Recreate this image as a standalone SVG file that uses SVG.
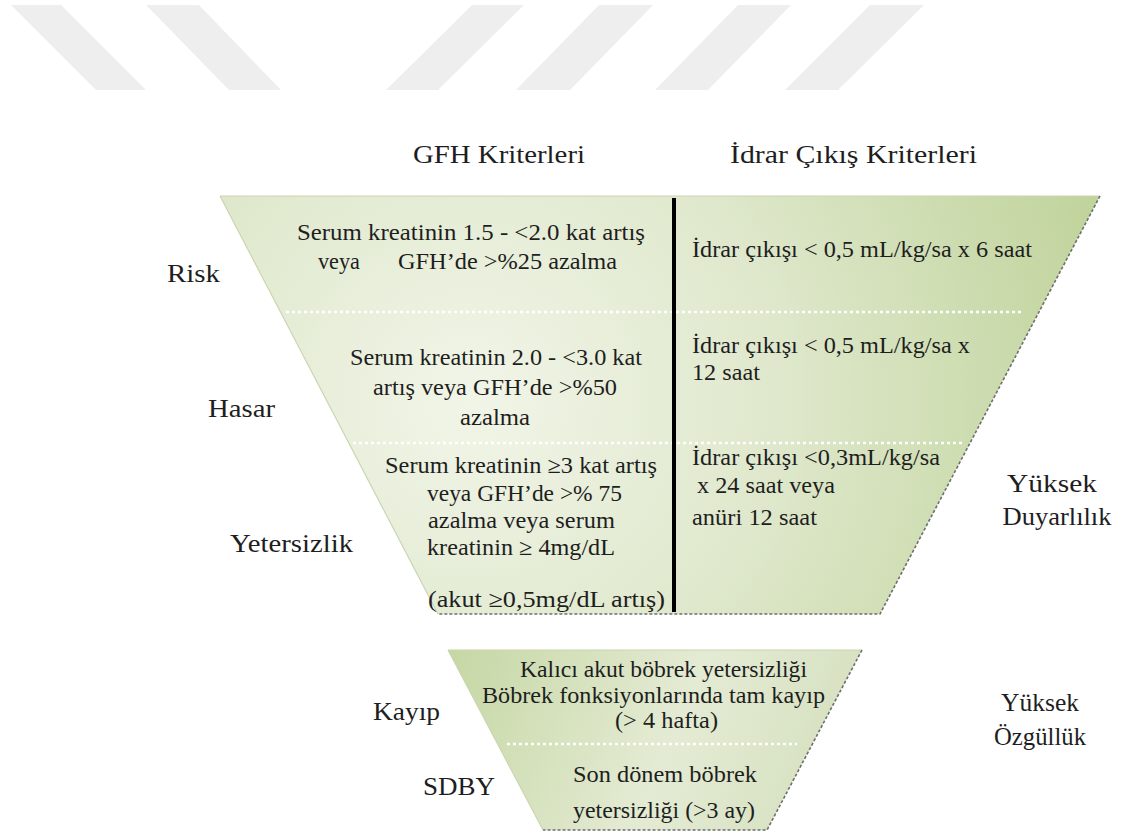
<svg xmlns="http://www.w3.org/2000/svg" width="1121" height="839" viewBox="0 0 1121 839">
<style>
text{font-family:'Liberation Serif','DejaVu Serif','Times New Roman',serif;fill:#1e1e1e}
.t{font-size:23px}
.l{font-size:26px}
.h{font-size:25px}
.wm{fill:#eeeeee}
.div{stroke:#ffffff;stroke-width:2.5;stroke-dasharray:3 3;fill:none}
.edge{stroke:#6e6e6e;stroke-width:1.6;stroke-dasharray:3 2;fill:none}
.ledge{stroke:#c9d6b0;stroke-width:1.2;fill:none}
</style>
<defs>
<radialGradient id="gUp" gradientUnits="userSpaceOnUse" cx="470" cy="400" r="680">
<stop offset="0" stop-color="#f1f5e8"/>
<stop offset="0.45" stop-color="#dfe8cc"/>
<stop offset="1" stop-color="#bed298"/>
</radialGradient>
<linearGradient id="gLow" gradientUnits="userSpaceOnUse" x1="450" y1="650" x2="820" y2="800">
<stop offset="0" stop-color="#c6d7a4"/>
<stop offset="0.6" stop-color="#e4ebd4"/>
<stop offset="1" stop-color="#d6e1c0"/>
</linearGradient>
</defs>
<rect width="1121" height="839" fill="#ffffff"/>
<g id="watermark">
<polygon class="wm" points="11,5 61,5 146,90 96,90"/>
<polygon class="wm" points="146,5 199,5 281,90 229,90"/>
<polygon class="wm" points="472,5 524,5 438,90 386,90"/>
<polygon class="wm" points="599,5 653,5 570,90 516,90"/>
<polygon class="wm" points="738,5 791,5 708,90 655,90"/>
<polygon class="wm" points="870,5 924,5 838,90 785,90"/>
</g>
<g id="headers">
<text class="h" font-family="Liberation Serif, DejaVu Serif, serif" x="413" y="163" textLength="172" lengthAdjust="spacingAndGlyphs">GFH Kriterleri</text>
<text class="h" font-family="Liberation Serif, DejaVu Serif, serif" x="730" y="163" textLength="247" lengthAdjust="spacingAndGlyphs">İdrar Çıkış Kriterleri</text>
</g>
<g id="upper-funnel">
<polygon points="220,196 1100,196 880,614 438,614" fill="url(#gUp)"/>
<path class="ledge" d="M220,196 L438,614 M220,196 L1100,196"/>
<path class="edge" d="M1100,196 L880,614 L438,614"/>
<line class="div" x1="286" y1="312" x2="1023" y2="312"/>
<line class="div" x1="353" y1="443" x2="965" y2="443"/>
<line x1="674" y1="198" x2="674" y2="612" stroke="#000" stroke-width="4"/>
</g>
<g id="risk">
<text class="l" x="167" y="282" textLength="53" lengthAdjust="spacingAndGlyphs">Risk</text>
<text class="t" x="297" y="240" textLength="348" lengthAdjust="spacingAndGlyphs">Serum kreatinin 1.5 - &lt;2.0 kat artış</text>
<text class="t" x="318" y="269" textLength="42" lengthAdjust="spacingAndGlyphs">veya</text>
<text class="t" x="398" y="269" textLength="219" lengthAdjust="spacingAndGlyphs">GFH’de &gt;%25 azalma</text>
<text class="t" x="692" y="257" textLength="340" lengthAdjust="spacingAndGlyphs">İdrar çıkışı &lt; 0,5 mL/kg/sa x 6 saat</text>
</g>
<g id="hasar">
<text class="l" x="208" y="417" textLength="67" lengthAdjust="spacingAndGlyphs">Hasar</text>
<text class="t" x="350" y="365" textLength="292" lengthAdjust="spacingAndGlyphs">Serum kreatinin 2.0 - &lt;3.0 kat</text>
<text class="t" x="373" y="395" textLength="244" lengthAdjust="spacingAndGlyphs">artış veya GFH’de &gt;%50</text>
<text class="t" x="460" y="425" textLength="70" lengthAdjust="spacingAndGlyphs">azalma</text>
<text class="t" x="692" y="353" textLength="278" lengthAdjust="spacingAndGlyphs">İdrar çıkışı &lt; 0,5 mL/kg/sa x</text>
<text class="t" x="692" y="380" textLength="68" lengthAdjust="spacingAndGlyphs">12 saat</text>
</g>
<g id="yetersizlik">
<text class="l" x="230" y="552" textLength="123" lengthAdjust="spacingAndGlyphs">Yetersizlik</text>
<text class="t" x="385" y="473" textLength="272" lengthAdjust="spacingAndGlyphs">Serum kreatinin ≥3 kat artış</text>
<text class="t" x="427" y="501" textLength="195" lengthAdjust="spacingAndGlyphs">veya GFH’de &gt;% 75</text>
<text class="t" x="428" y="528" textLength="187" lengthAdjust="spacingAndGlyphs">azalma veya serum</text>
<text class="t" x="427" y="555" textLength="188" lengthAdjust="spacingAndGlyphs">kreatinin ≥ 4mg/dL</text>
<text class="t" x="428" y="607" textLength="237" lengthAdjust="spacingAndGlyphs">(akut  ≥0,5mg/dL artış)</text>
<text class="t" x="692" y="465" textLength="248" lengthAdjust="spacingAndGlyphs">İdrar çıkışı &lt;0,3mL/kg/sa</text>
<text class="t" x="697" y="493" textLength="138" lengthAdjust="spacingAndGlyphs">x 24 saat veya</text>
<text class="t" x="692" y="525" textLength="125" lengthAdjust="spacingAndGlyphs">anüri 12 saat</text>
</g>
<g id="yuksek-duyarlilik">
<text class="l" x="1052" y="492" text-anchor="middle" textLength="90" lengthAdjust="spacingAndGlyphs">Yüksek</text>
<text class="l" x="1057" y="525" text-anchor="middle" textLength="109" lengthAdjust="spacingAndGlyphs">Duyarlılık</text>
</g>
<g id="lower-funnel">
<polygon points="448,650 862,650 767,830 543,830" fill="url(#gLow)"/>
<path class="ledge" d="M448,650 L543,830 M448,650 L862,650"/>
<path class="edge" d="M862,650 L767,830 L543,830"/>
<line class="div" x1="507" y1="744" x2="797" y2="744"/>
</g>
<g id="kayip">
<text class="l" x="373" y="720" textLength="67" lengthAdjust="spacingAndGlyphs">Kayıp</text>
<text class="t" x="520" y="677" textLength="287" lengthAdjust="spacingAndGlyphs">Kalıcı akut böbrek yetersizliği</text>
<text class="t" x="482" y="703" textLength="343" lengthAdjust="spacingAndGlyphs">Böbrek fonksiyonlarında tam kayıp</text>
<text class="t" x="615" y="728" textLength="103" lengthAdjust="spacingAndGlyphs">(&gt; 4 hafta)</text>
</g>
<g id="sdby">
<text class="l" x="423" y="795" textLength="72" lengthAdjust="spacingAndGlyphs">SDBY</text>
<text class="t" x="573" y="782" textLength="184" lengthAdjust="spacingAndGlyphs">Son dönem böbrek</text>
<text class="t" x="573" y="818" textLength="182" lengthAdjust="spacingAndGlyphs">yetersizliği (&gt;3 ay)</text>
</g>
<g id="yuksek-ozgulluk">
<text class="l" x="1040" y="711" text-anchor="middle" textLength="78" lengthAdjust="spacingAndGlyphs">Yüksek</text>
<text class="l" x="1040" y="745" text-anchor="middle" textLength="92" lengthAdjust="spacingAndGlyphs">Özgüllük</text>
</g>
</svg>
